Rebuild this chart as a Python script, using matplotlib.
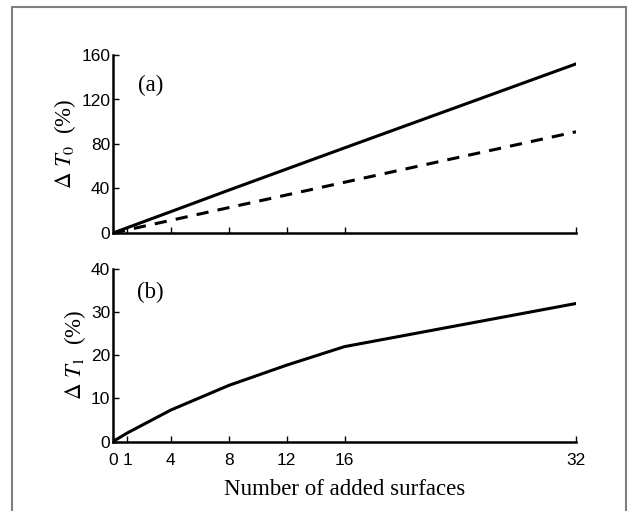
import matplotlib
matplotlib.use("Agg")
import matplotlib.pyplot as plt
from matplotlib.patches import Rectangle

# number of added surfaces
n_surf = [0, 1, 4, 8, 12, 16, 32]

# (a) change of T0 in percent
dT0_solid = [0, 4.8, 19.2, 38.5, 57.5, 76.5, 152]
dT0_dash = [0, 2.85, 11.4, 22.8, 34.2, 45.6, 91]

# (b) change of T1 in percent
dT1 = [0, 2.0, 7.3, 13.0, 17.7, 22.0, 32]

xticks = [0, 1, 4, 8, 12, 16, 32]

plt.rcParams['font.family'] = 'Liberation Sans'
plt.rcParams['mathtext.fontset'] = 'stix'

W, H = 628, 511
fig = plt.figure(figsize=(W / 100, H / 100), dpi=100)

# grey frame round the figure (bottom edge cut off)
fig.patches.append(Rectangle((12 / W, -0.05), (626 - 12) / W, 1 - 7 / H + 0.05,
                             transform=fig.transFigure, fill=False,
                             edgecolor='#7f7f7f', linewidth=1.5))

ax1 = fig.add_axes([113 / W, 1 - 233 / H, (576 - 113) / W, (233 - 55) / H])
ax2 = fig.add_axes([113 / W, 1 - 441.5 / H, (576 - 113) / W, (441.5 - 269) / H])

ax1.plot(n_surf, dT0_solid, color='black', linewidth=2.2)
ax1.plot(n_surf, dT0_dash, color='black', linewidth=2.2, linestyle=(0, (4, 3)))
ax2.plot(n_surf, dT1, color='black', linewidth=2.2)

for ax in (ax1, ax2):
    ax.spines['top'].set_visible(False)
    ax.spines['right'].set_visible(False)
    ax.spines['left'].set_linewidth(1.8)
    ax.spines['bottom'].set_linewidth(1.8)
    ax.set_xlim(0, 32)
    ax.set_xticks(xticks)
    ax.tick_params(direction='in', length=4, width=1, labelsize=12.5)
    ax.tick_params(axis='y', pad=2)
    ax.tick_params(axis='x', pad=8)

ax1.set_ylim(0, 160)
ax1.set_yticks([0, 40, 80, 120, 160])
ax1.set_xticklabels([])
ax2.set_ylim(0, 40)
ax2.set_yticks([0, 10, 20, 30, 40])

ax1.set_ylabel(r'$\Delta\ T_0$  (%)', family='Liberation Serif', fontsize=16.5, labelpad=2)
ax2.set_ylabel(r'$\Delta\ T_1$  (%)', family='Liberation Serif', fontsize=16.5, labelpad=2)
ax2.set_xlabel('Number of added surfaces', family='Liberation Serif', fontsize=16.5, labelpad=8)

ax1.text(2.6, 133, '(a)', family='Liberation Serif', fontsize=16.5, ha='center', va='center')
ax2.text(2.6, 34.6, '(b)', family='Liberation Serif', fontsize=16.5, ha='center', va='center')

fig.savefig('out.png', dpi=100)
